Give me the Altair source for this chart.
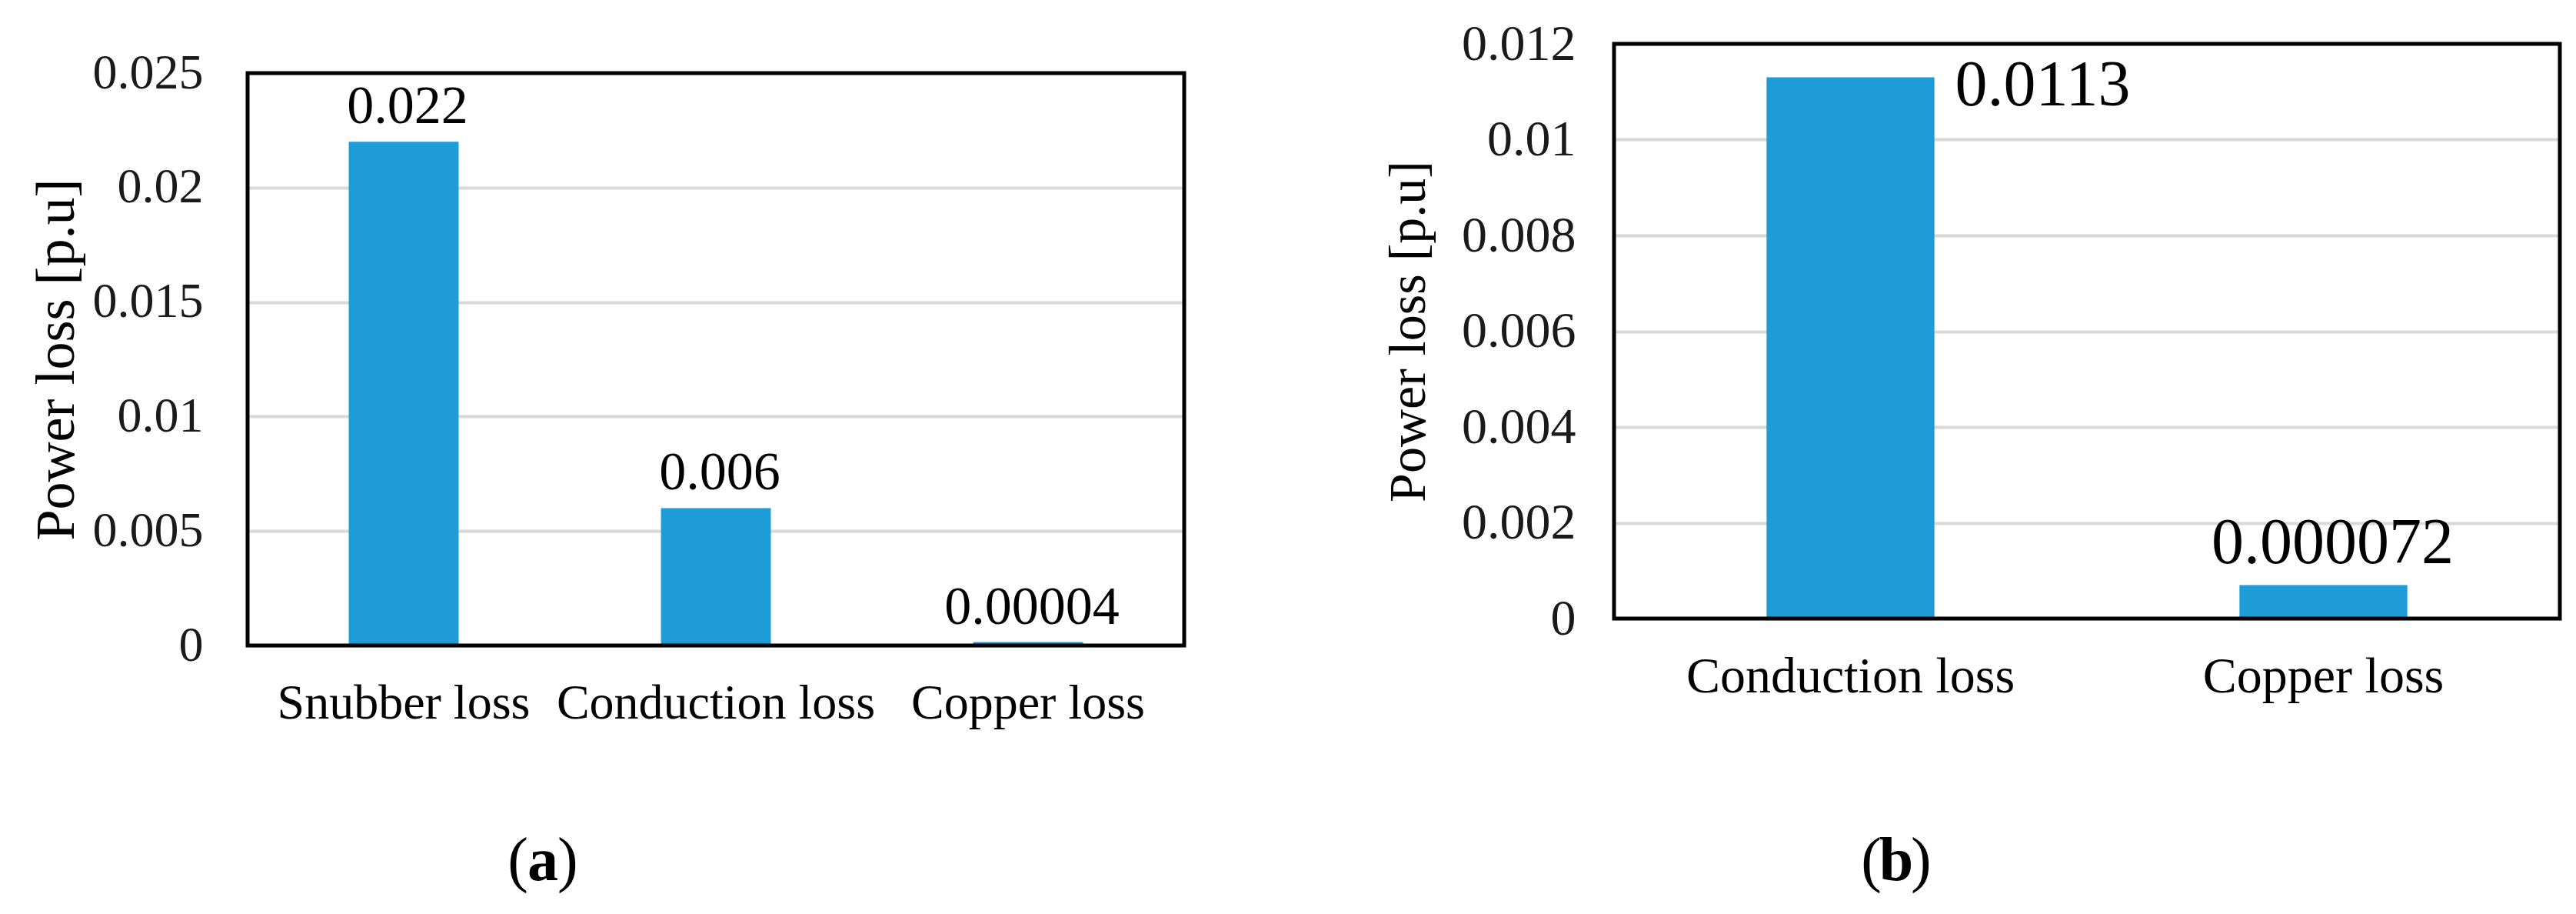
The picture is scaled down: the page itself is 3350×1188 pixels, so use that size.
import altair as alt
import pandas as pd

# ---- data ----
cats_a = ["Snubber loss", "Conduction loss", "Copper loss"]
vals_a = [0.022, 0.006, 0.00015]          # bar heights as drawn
labels_a = ["0.022", "0.006", "0.00004"]  # data labels as printed
ticks_a = [0, 0.005, 0.01, 0.015, 0.02, 0.025]

cats_b = ["Conduction loss", "Copper loss"]
vals_b = [0.0113, 0.0007]                 # bar heights as drawn
labels_b = ["0.0113", "0.000072"]         # data labels as printed
ticks_b = [0, 0.002, 0.004, 0.006, 0.008, 0.01, 0.012]

y_title = "Power loss [p.u]"
BAR = "#1d9cd8"
FONT = "Liberation Serif"

df_a = pd.DataFrame({"cat": cats_a, "val": vals_a, "lab": labels_a})
df_b = pd.DataFrame({"cat": cats_b, "val": vals_b, "lab": labels_b})
one = pd.DataFrame({"k": [0]})

# panel geometry (px)
WA, HA, TOP_A = 1218, 782, 38   # panel (a): frame starts 38px below panel (b)'s
WB, HB = 1230, 747


def x_enc(cats, pin, fs):
    return alt.X("cat:N", sort=cats, title=None,
                 scale=alt.Scale(paddingInner=pin, paddingOuter=pin / 2),
                 axis=alt.Axis(labelAngle=0, labelFontSize=fs, labelPadding=43,
                               ticks=False, domain=False, labelColor="black",
                               labelFont=FONT, labelLimit=2000))


def y_enc(dom, ticks, lfs, lpad, tfs, tpad, rng=None):
    sc = alt.Scale(domain=dom, nice=False, zero=True)
    if rng is not None:
        sc = alt.Scale(domain=dom, nice=False, zero=True, range=rng)
    return alt.Y("val:Q", scale=sc,
                 axis=alt.Axis(values=ticks, format="~f", labelFontSize=lfs,
                               labelPadding=lpad, ticks=False, domain=False,
                               grid=True, gridColor="#d9d9d9", gridWidth=4,
                               labelColor="#1a1a1a", labelFont=FONT, labelLimit=2000,
                               title=y_title, titleFontSize=tfs, titleFontWeight="normal",
                               titleFont=FONT, titleColor="black", titlePadding=tpad))


def caption(letter, cx, cy):
    base = alt.Chart(one)
    lp = base.mark_text(text="(", font=FONT, fontSize=80, align="right",
                        baseline="alphabetic", color="black").encode(
        x=alt.value(cx - 19), y=alt.value(cy))
    mid = base.mark_text(text=letter, font=FONT, fontSize=80, fontWeight="bold",
                         align="center", baseline="alphabetic", color="black").encode(
        x=alt.value(cx), y=alt.value(cy))
    rp = base.mark_text(text=")", font=FONT, fontSize=80, align="left",
                        baseline="alphabetic", color="black").encode(
        x=alt.value(cx + 19), y=alt.value(cy))
    return [lp, mid, rp]


# ---- panel (a) ----
xa = x_enc(cats_a, 0.648, 64)
ya = y_enc([0, 0.025], ticks_a, 64, 58, 72, 12, rng=[HA, TOP_A])
bars_a = alt.Chart(df_a).mark_bar(color=BAR).encode(x=xa, y=ya)
text_a = alt.Chart(df_a).mark_text(font=FONT, fontSize=70, baseline="alphabetic",
                                   dy=-24, dx=5, color="black").encode(
    x=alt.X("cat:N", sort=cats_a), y="val:Q", text="lab:N")
frame_a = alt.Chart(one).mark_rect(filled=False, stroke="black", strokeWidth=5).encode(
    x=alt.value(0), x2=alt.value(WA), y=alt.value(TOP_A), y2=alt.value(HA))
panel_a = alt.layer(bars_a, text_a, frame_a, *caption("a", 384, 1087)).properties(
    width=WA, height=HA, view=alt.ViewBackground(stroke="transparent"))

# ---- panel (b) ----
xb = x_enc(cats_b, 0.645, 66)
yb = y_enc([0, 0.012], ticks_b, 66, 50, 68, 34)
bars_b = alt.Chart(df_b).mark_bar(color=BAR).encode(x=xb, y=yb)
text_b1 = alt.Chart(df_b).transform_filter(alt.datum.cat == cats_b[0]).mark_text(
    font=FONT, fontSize=84, baseline="middle", align="left", dx=136, dy=11,
    color="black").encode(x=alt.X("cat:N", sort=cats_b), y="val:Q", text="lab:N")
text_b2 = alt.Chart(df_b).transform_filter(alt.datum.cat == cats_b[1]).mark_text(
    font=FONT, fontSize=84, baseline="alphabetic", align="center", dx=12, dy=-28,
    color="black").encode(x=alt.X("cat:N", sort=cats_b), y="val:Q", text="lab:N")
frame_b = alt.Chart(one).mark_rect(filled=False, stroke="black", strokeWidth=5).encode(
    x=alt.value(0), x2=alt.value(WB), y=alt.value(0), y2=alt.value(HB))
panel_b = alt.layer(bars_b, text_b1, text_b2, frame_b, *caption("b", 367, 1087)).properties(
    width=WB, height=HB, view=alt.ViewBackground(stroke="transparent"))

chart = alt.concat(panel_a, panel_b, columns=2, spacing=255).properties(
    padding={"left": 28, "top": 15, "right": 0, "bottom": 0}
).configure(font=FONT)

chart.save("out.html", embed_options={"renderer": "svg", "actions": False})
